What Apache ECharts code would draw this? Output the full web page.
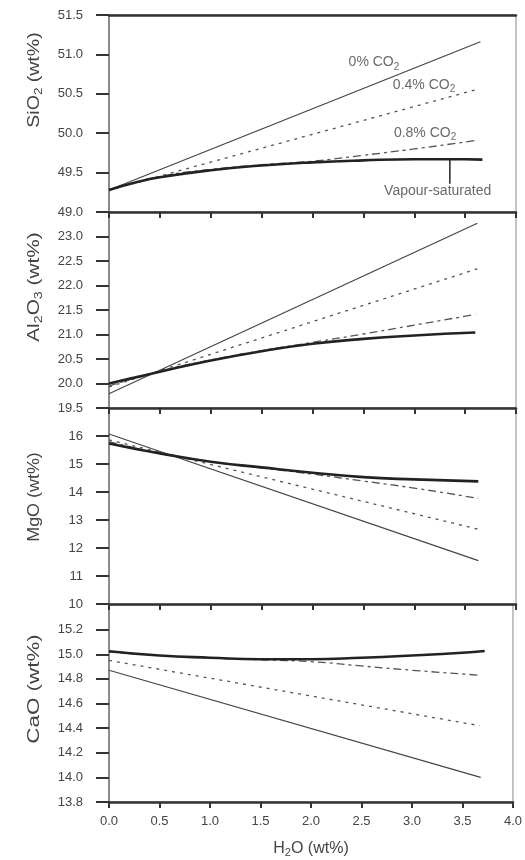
<!DOCTYPE html>
<html>
<head>
<meta charset="utf-8">
<script src="https://cdn.jsdelivr.net/npm/echarts/dist/echarts.min.js"></script>
<style>
  html, body { margin: 0; padding: 0; background: #fff; }
  #chart { width: 525px; height: 860px; }
</style>
</head>
<body>
<div id="chart"></div>
<script>
// ---------------- DATA ----------------
// x tick labels (H2O wt%)
const xTicks = [0, 0.5, 1.0, 1.5, 2.0, 2.5, 3.0, 3.5, 4.0];

// SiO2 panel
const siX0 = [0, 3.65];               const siY0 = [49.28, 51.16];
const siX4 = [0, 3.60];               const siY4 = [49.28, 50.55];
const siX8 = [0, 0.5, 1.0, 1.5, 2.0, 2.5, 3.0, 3.62];
const siY8 = [49.28, 49.45, 49.54, 49.60, 49.645, 49.72, 49.80, 49.91];
const siXV = [0, 0.25, 0.5, 1.0, 1.5, 2.0, 2.5, 3.0, 3.5, 3.67];
const siYV = [49.28, 49.37, 49.44, 49.53, 49.59, 49.63, 49.655, 49.67, 49.67, 49.665];

// Al2O3 panel
const alX0 = [0, 3.62];               const alY0 = [19.79, 23.27];
const alX4 = [0, 3.62];               const alY4 = [19.93, 22.34];
const alX8 = [0, 0.5, 1.0, 1.5, 2.0, 2.5, 3.0, 3.6];
const alY8 = [19.95, 20.25, 20.48, 20.67, 20.84, 21.01, 21.19, 21.41];
const alXV = [0, 0.25, 0.5, 1.0, 1.5, 2.0, 2.5, 3.0, 3.6];
const alYV = [20.0, 20.12, 20.24, 20.47, 20.66, 20.81, 20.91, 20.98, 21.04];

// MgO panel
const mgX0 = [0, 3.63];               const mgY0 = [16.07, 11.55];
const mgX4 = [0, 3.63];               const mgY4 = [15.86, 12.67];
const mgX8 = [0, 0.5, 1.0, 1.5, 2.0, 2.5, 3.0, 3.63];
const mgY8 = [15.80, 15.38, 15.08, 14.86, 14.64, 14.39, 14.14, 13.77];
const mgXV = [0, 0.25, 0.5, 1.0, 1.5, 2.0, 2.5, 3.0, 3.63];
const mgYV = [15.73, 15.55, 15.38, 15.08, 14.88, 14.69, 14.53, 14.45, 14.38];

// CaO panel
const caX0 = [0, 3.68];               const caY0 = [14.87, 14.00];
const caX4 = [0, 3.67];               const caY4 = [14.95, 14.42];
const caX8 = [0, 0.5, 1.0, 1.5, 2.0, 2.5, 3.0, 3.67];
const caY8 = [15.02, 14.99, 14.97, 14.955, 14.94, 14.905, 14.87, 14.83];
const caXV = [0, 0.5, 1.0, 1.5, 2.0, 2.5, 3.0, 3.5, 3.72];
const caYV = [15.025, 14.99, 14.972, 14.96, 14.96, 14.972, 14.99, 15.012, 15.026];

// y-axis ranges
const yMins = [49.0, 19.5, 10, 13.8];
const yMaxs = [51.5, 23.5, 17, 15.4];
const yIntervals = [0.5, 0.5, 1, 0.2];
const yTitles = ['SiO{sub|2} (wt%)', 'Al{sub|2}O{sub|3} (wt%)', 'MgO (wt%)', 'CaO (wt%)'];

// Annotations (SiO2 panel)
const annTexts = ['0% CO{sub|2}', '0.4% CO{sub|2}', '0.8% CO{sub|2}', 'Vapour-saturated'];
const annX = [2.35, 2.785, 2.795, 3.23];
const annY = [50.90, 50.61, 50.00, 49.26];
const pointerX = [3.35, 3.35];
const pointerY = [49.66, 49.36];

// ---------------- BUILD ----------------
const pair = (xs, ys) => xs.map((x, i) => [x, ys[i]]);
const panelData = [
  [pair(siX0, siY0), pair(siX4, siY4), pair(siX8, siY8), pair(siXV, siYV)],
  [pair(alX0, alY0), pair(alX4, alY4), pair(alX8, alY8), pair(alXV, alYV)],
  [pair(mgX0, mgY0), pair(mgX4, mgY4), pair(mgX8, mgY8), pair(mgXV, mgYV)],
  [pair(caX0, caY0), pair(caX4, caY4), pair(caX8, caY8), pair(caXV, caYV)]
];

const FONT = 'Liberation Sans, Arial, Helvetica, sans-serif';
const gridTops = [15, 212, 408, 605];
const gridHeights = [197, 196, 196, 197];
const titleCenters = [80, 287, 497, 689];
const titleStretch = [1.22, 1.3, 1.12, 1.4];

const grids = [], xAxes = [], yAxes = [], series = [];
for (let i = 0; i < 4; i++) {
  grids.push({
    left: 109, right: 9, top: gridTops[i], height: gridHeights[i],
    show: true, borderColor: '#8a8a8a', borderWidth: 1, backgroundColor: 'transparent'
  });
  xAxes.push({
    gridIndex: i, type: 'value', min: 0, max: 4, interval: 0.5, position: 'bottom',
    axisLine: { show: true, onZero: false, lineStyle: { color: '#333', width: 2.5 } },
    axisTick: { show: true, length: 6, lineStyle: { color: '#333', width: 2 } },
    axisLabel: {
      show: i === 3, margin: 13, color: '#444', fontSize: 13, fontFamily: FONT,
      formatter: v => v.toFixed(1)
    },
    splitLine: { show: false },
    name: i === 3 ? 'H{sub|2}O (wt%)' : '',
    nameLocation: 'middle', nameGap: 37,
    nameTextStyle: {
      color: '#444', fontSize: 16, fontFamily: FONT,
      rich: { sub: { fontSize: 11, color: '#444', fontFamily: FONT, padding: [8, 0, 0, 0] } }
    }
  });
  yAxes.push({
    gridIndex: i, type: 'value', min: yMins[i], max: yMaxs[i], interval: yIntervals[i],
    axisLine: { show: true, lineStyle: { color: '#777', width: 1.5 } },
    axisTick: { show: true, length: 13, lineStyle: { color: '#333', width: 2 } },
    axisLabel: {
      margin: 26, color: '#444', fontSize: 13, fontFamily: FONT,
      showMaxLabel: i === 0, showMinLabel: true,
      formatter: v => (i === 2 ? String(Math.round(v)) : v.toFixed(1))
    },
    splitLine: { show: false }
  });
  const d = panelData[i];
  series.push({
    type: 'line', xAxisIndex: i, yAxisIndex: i, data: d[0], symbol: 'none', z: 3,
    lineStyle: { color: '#444', width: 1.2, type: 'solid' }
  });
  series.push({
    type: 'line', xAxisIndex: i, yAxisIndex: i, data: d[1], symbol: 'none', z: 3,
    lineStyle: { color: '#555', width: 1.3, type: [3, 5] }
  });
  series.push({
    type: 'line', xAxisIndex: i, yAxisIndex: i, data: d[2], symbol: 'none', smooth: true, z: 3,
    lineStyle: { color: '#555', width: 1.3, type: [8, 4, 3, 4] }
  });
  series.push({
    type: 'line', xAxisIndex: i, yAxisIndex: i, data: d[3], symbol: 'none', smooth: true, z: 4,
    lineStyle: { color: '#222', width: 2.6, type: 'solid' }
  });
}
// top border of first panel
xAxes.push({
  gridIndex: 0, type: 'value', min: 0, max: 4, position: 'top',
  axisLine: { show: true, onZero: false, lineStyle: { color: '#333', width: 2.5 } },
  axisTick: { show: false }, axisLabel: { show: false }, splitLine: { show: false }
});

// pointer line
series.push({
  type: 'line', xAxisIndex: 0, yAxisIndex: 0, data: pair(pointerX, pointerY),
  symbol: 'none', z: 5, lineStyle: { color: '#222', width: 1.5 }
});
// annotation labels
const subRich = { sub: { fontSize: 10, color: '#444', fontFamily: FONT, padding: [9, 0, 0, 0] } };
series.push({
  type: 'scatter', xAxisIndex: 0, yAxisIndex: 0, symbolSize: 1, z: 6,
  itemStyle: { color: 'rgba(0,0,0,0)' },
  data: annTexts.map((t, k) => ({
    value: [annX[k], annY[k]],
    label: {
      show: true, formatter: t,
      position: k === 3 ? 'inside' : 'right', distance: 0,
      color: '#444', fontSize: 14, fontFamily: FONT, rich: subRich
    }
  }))
});

const graphics = yTitles.map((t, i) => ({
  type: 'text', x: 35, y: titleCenters[i], rotation: Math.PI / 2, z: 10,
  scaleX: titleStretch[i], scaleY: 1,
  style: {
    text: t, fill: '#444', fontSize: 16, fontFamily: FONT,
    align: 'center', verticalAlign: 'middle',
    rich: { sub: { fontSize: 11, fill: '#444', fontFamily: FONT, padding: [8, 0, 0, 0] } }
  }
}));

const chart = echarts.init(document.getElementById('chart'), null, { renderer: 'canvas' });
chart.setOption({
  backgroundColor: '#fff',
  animation: false,
  grid: grids,
  xAxis: xAxes,
  yAxis: yAxes,
  series: series,
  graphic: graphics
});
</script>
</body>
</html>
